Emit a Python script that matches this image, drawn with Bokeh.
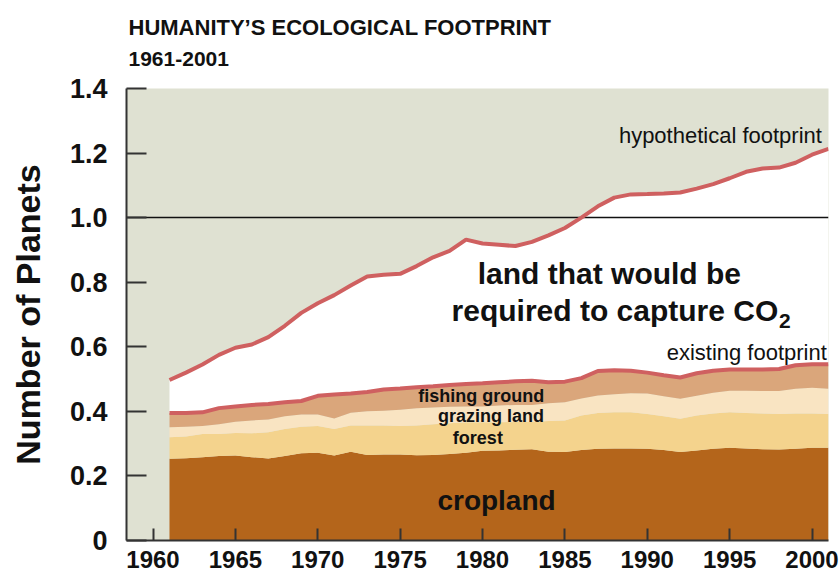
import numpy as np
from bokeh.plotting import figure
from bokeh.models import Range1d, FixedTicker, Title, Label, ColumnDataSource
from bokeh.embed import file_html
from bokeh.resources import INLINE

# Ecological footprint by component, in number of planets, 1961-2001
years = list(range(1961, 2002))
cropland = [0.253, 0.255, 0.258, 0.262, 0.263, 0.258, 0.254, 0.262, 0.270, 0.272,
            0.263, 0.275, 0.265, 0.266, 0.266, 0.264, 0.265, 0.268, 0.272, 0.278,
            0.279, 0.281, 0.283, 0.275, 0.274, 0.280, 0.284, 0.285, 0.285, 0.284,
            0.280, 0.274, 0.279, 0.284, 0.287, 0.285, 0.283, 0.282, 0.284, 0.287,
            0.287]
forest = [0.067, 0.067, 0.072, 0.068, 0.070, 0.074, 0.081, 0.083, 0.082, 0.083,
          0.082, 0.081, 0.091, 0.090, 0.089, 0.092, 0.095, 0.095, 0.094, 0.088,
          0.087, 0.086, 0.084, 0.095, 0.098, 0.107, 0.111, 0.112, 0.112, 0.108,
          0.105, 0.103, 0.108, 0.109, 0.110, 0.110, 0.110, 0.110, 0.109, 0.106,
          0.105]
grazing = [0.031, 0.030, 0.025, 0.030, 0.035, 0.040, 0.040, 0.040, 0.038, 0.035,
           0.033, 0.040, 0.044, 0.046, 0.050, 0.054, 0.052, 0.051, 0.049, 0.049,
           0.052, 0.053, 0.053, 0.055, 0.056, 0.053, 0.054, 0.056, 0.059, 0.063,
           0.062, 0.062, 0.061, 0.065, 0.067, 0.069, 0.070, 0.071, 0.077, 0.080,
           0.078]
fishing = [0.044, 0.043, 0.042, 0.050, 0.047, 0.048, 0.048, 0.043, 0.042, 0.058,
           0.074, 0.059, 0.060, 0.066, 0.066, 0.065, 0.066, 0.068, 0.070, 0.072,
           0.072, 0.073, 0.075, 0.065, 0.064, 0.063, 0.076, 0.074, 0.070, 0.065,
           0.065, 0.066, 0.070, 0.068, 0.066, 0.066, 0.067, 0.068, 0.073, 0.073,
           0.076]
# land that would be needed to absorb CO2 emissions
co2_land = [0.102, 0.125, 0.148, 0.165, 0.182, 0.187, 0.207, 0.237, 0.273, 0.287,
            0.308, 0.335, 0.358, 0.355, 0.355, 0.375, 0.399, 0.415, 0.447, 0.433,
            0.426, 0.419, 0.430, 0.455, 0.476, 0.497, 0.510, 0.535, 0.546, 0.553,
            0.563, 0.573, 0.572, 0.578, 0.592, 0.612, 0.622, 0.624, 0.627, 0.649,
            0.667]

x_ticks = [1960, 1965, 1970, 1975, 1980, 1985, 1990, 1995, 2000]
y_ticks = [0, 0.2, 0.4, 0.6, 0.8, 1.0, 1.2, 1.4]
y_tick_labels = ["0", "0.2", "0.4", "0.6", "0.8", "1.0", "1.2", "1.4"]

existing = np.array(cropland) + np.array(forest) + np.array(grazing) + np.array(fishing)
hypothetical = existing + np.array(co2_land)

source = ColumnDataSource(dict(year=years, cropland=cropland, forest=forest,
                               grazing=grazing, fishing=fishing, co2_land=co2_land,
                               existing=existing, hypothetical=hypothetical))

FONT = "Liberation Sans"
INK = "#111111"
RED = "#cf6060"

p = figure(width=840, height=577, output_backend="svg", toolbar_location=None,
           x_range=Range1d(1958.39, 2001.0), y_range=Range1d(0, 1.4),
           min_border_left=126, min_border_right=12, min_border_top=88,
           min_border_bottom=37)
p.background_fill_color = "#dfe1d2"
p.border_fill_color = "white"
p.outline_line_color = None
p.grid.visible = False

p.varea_stack(stackers=["cropland", "forest", "grazing", "fishing", "co2_land"],
              x="year", source=source,
              color=["#b4651b", "#f4d38d", "#f9e4c2", "#daa67b", "white"])

# one-planet reference line
p.hspan(y=[1.0], line_color=INK, line_width=1.6)

p.line("year", "existing", source=source, line_color=RED, line_width=4)
p.line("year", "hypothetical", source=source, line_color=RED, line_width=4)

# axes
p.xaxis.ticker = FixedTicker(ticks=x_ticks)
p.yaxis.ticker = FixedTicker(ticks=y_ticks)
p.yaxis.major_label_overrides = {t: s for t, s in zip(y_ticks, y_tick_labels)}
for ax in (p.xaxis[0], p.yaxis[0]):
    ax.axis_line_color = "#333333"
    ax.axis_line_width = 2
    ax.major_tick_line_color = "#333333"
    ax.major_tick_line_width = 2
    ax.major_tick_out = 0
    ax.minor_tick_line_color = None
    ax.major_label_text_font = FONT
    ax.major_label_text_font_style = "bold"
    ax.major_label_text_color = INK
p.xaxis.major_tick_in = 12
p.xaxis.major_label_standoff = 10
p.xaxis.major_label_text_font_size = "24px"
p.yaxis.major_label_text_font_size = "27px"
p.yaxis.major_tick_in = 20
p.yaxis.major_label_standoff = 19
p.yaxis.axis_label = "Number of Planets"
p.yaxis.axis_label_text_font = FONT
p.yaxis.axis_label_text_font_style = "bold"
p.yaxis.axis_label_text_font_size = "34px"
p.yaxis.axis_label_text_color = INK
p.yaxis.axis_label_standoff = 20

# titles
sub = Title(text="1961-2001", align="left", offset=2, standoff=46, text_font=FONT,
            text_font_style="bold", text_font_size="21px", text_color=INK)
main = Title(text="HUMANITY\u2019S ECOLOGICAL FOOTPRINT", align="left", offset=2,
             standoff=-26, text_font=FONT, text_font_style="bold",
             text_font_size="22px", text_color=INK)
p.add_layout(sub, "above")
p.add_layout(main, "above")


def label(x, y, text, size, bold=False, align="left", baseline="middle"):
    p.add_layout(Label(x=x, y=y, text=text, text_font=FONT,
                       text_font_style="bold" if bold else "normal",
                       text_font_size=size, text_color=INK,
                       text_align=align, text_baseline=baseline))


label(2000.6, 1.255, "hypothetical footprint", "22px", align="right")
label(2000.9, 0.582, "existing footprint", "22px", align="right")
label(1987.7, 0.827, "land that would be", "30px", bold=True, align="center")
label(1997.95, 0.712, "required to capture CO", "30px", bold=True, align="right")
label(1998.0, 0.68, "2", "21px", bold=True, align="left")
label(1976.1, 0.449, "fishing ground", "18px", bold=True)
label(1977.3, 0.387, "grazing land", "18px", bold=True)
label(1978.2, 0.319, "forest", "18px", bold=True)
label(1980.85, 0.124, "cropland", "28px", bold=True, align="center")

open("out.html", "w").write(file_html(p, INLINE))
